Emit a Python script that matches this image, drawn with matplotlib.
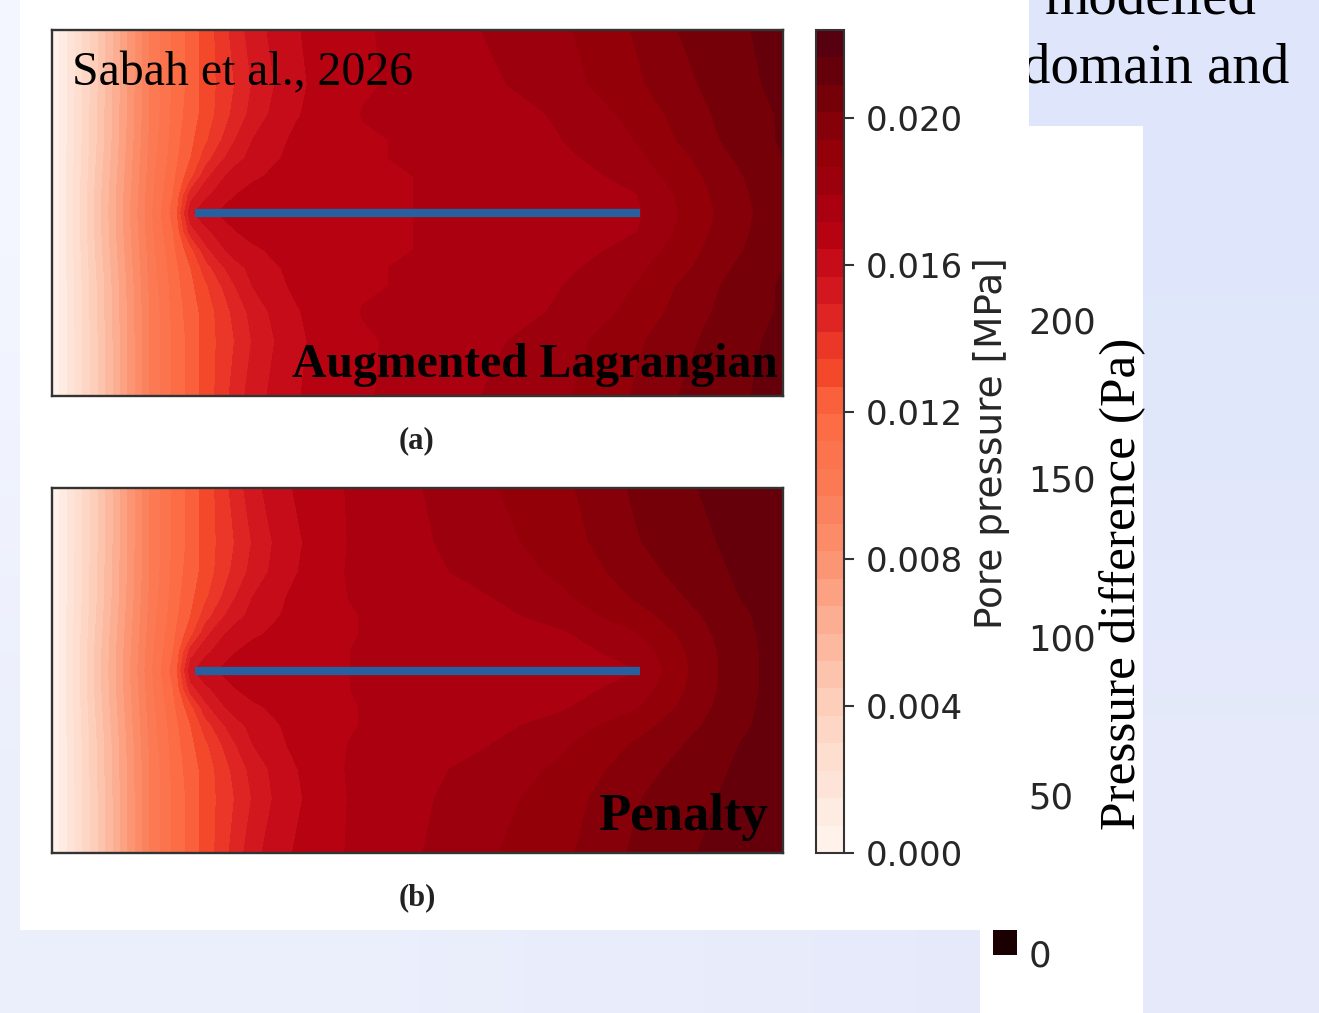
import numpy as np
import matplotlib
matplotlib.use('Agg')
import matplotlib.pyplot as plt
from matplotlib.colors import LinearSegmentedColormap
from matplotlib.patches import Rectangle

# positions along the domain and distance above/below the fracture
x_grid = [0, .13, .27, .34, .38, .42, .46, .50, .55, .62, .72, .85, 1.04, 1.2, 1.39, 1.6, 1.72, 1.85, 2.0]
d_grid = [0, .05, .1, .15, .2, .27, .35, .5]

# pore pressure, one row per distance, fracture line first
p_lagrangian = [
    [0, .0050, .0103, .0125, .0155, .0162, .0165, .0167, .0168, .0169, .0170, .0171, .0172, .0172, .0173, .0178, .0187, .0197, .0207],
    [0, .0050, .0102, .0122, .0146, .0155, .0160, .0164, .0167, .0169, .0170, .0171, .0172, .0173, .0174, .0179, .0188, .0198, .0207],
    [0, .0049, .0101, .0120, .0132, .0147, .0155, .0160, .0163, .0166, .0169, .0171, .0172, .0173, .0175, .0182, .0190, .0199, .0208],
    [0, .0048, .0100, .0118, .0127, .0138, .0147, .0154, .0159, .0164, .0168, .0171, .0173, .0174, .0177, .0185, .0192, .0201, .0209],
    [0, .0047, .0099, .0117, .0125, .0133, .0141, .0149, .0157, .0163, .0168, .0171, .0173, .0175, .0179, .0187, .0195, .0203, .0210],
    [0, .0047, .0098, .0116, .0123, .0130, .0137, .0144, .0152, .0160, .0167, .0172, .0173, .0176, .0180, .0189, .0197, .0204, .0210],
    [0, .0046, .0098, .0115, .0122, .0130, .0136, .0142, .0150, .0158, .0166, .0171, .0174, .0178, .0183, .0193, .0199, .0206, .0211],
    [0, .0046, .0098, .0115, .0122, .0130, .0137, .0145, .0153, .0160, .0167, .0171, .0175, .0180, .0185, .0195, .0202, .0207, .0212],
]
# same for panel (b)
p_penalty = [
    [0, .0050, .0103, .0125, .0155, .0162, .0165, .0167, .0168, .0169, .0171, .0172, .0172, .0173, .0174, .0179, .0192, .0204, .0213],
    [0, .0050, .0102, .0122, .0146, .0155, .0160, .0164, .0167, .0169, .0171, .0172, .0173, .0174, .0176, .0182, .0193, .0204, .0213],
    [0, .0049, .0101, .0120, .0132, .0147, .0155, .0160, .0163, .0166, .0169, .0172, .0174, .0175, .0178, .0186, .0195, .0205, .0213],
    [0, .0048, .0100, .0118, .0127, .0138, .0147, .0154, .0159, .0164, .0169, .0172, .0175, .0177, .0182, .0191, .0198, .0206, .0213],
    [0, .0047, .0099, .0117, .0125, .0133, .0141, .0149, .0157, .0163, .0169, .0173, .0176, .0179, .0185, .0195, .0201, .0208, .0213],
    [0, .0047, .0098, .0116, .0123, .0130, .0137, .0144, .0152, .0160, .0168, .0174, .0178, .0182, .0188, .0198, .0204, .0209, .0214],
    [0, .0046, .0098, .0115, .0122, .0130, .0136, .0142, .0150, .0159, .0167, .0174, .0179, .0184, .0190, .0201, .0206, .0210, .0214],
    [0, .0046, .0098, .0115, .0122, .0130, .0137, .0145, .0154, .0162, .0168, .0174, .0180, .0186, .0192, .0203, .0208, .0211, .0215],
]

crack_x = [0.39, 1.61]
crack_y = [0.5, 0.5]

cbar_ticks = [0, .004, .008, .012, .016, .020]
diff_ticks = [0, 50, 100, 150, 200]
n_levels = 30
p_max = 0.0224

# colours sampled along the colour bar, with the pressure they sit at
red_values = [0, .002, .004, .006, .008, .010, .012, .013, .014, .015, .016, .017, .018, .019, .020, .021, .022, .0224]
red_colors = ['#fff5ef', '#fee3d6', '#fdd0bc', '#fcb498', '#fc9270', '#fb7a54', '#fc6a42',
              '#f54a2c', '#e83226', '#d81c20', '#c80c1a', '#b40010', '#a20010', '#940008',
              '#820008', '#6c0008', '#580010', '#4a000c']

W, H = 1319, 1013


def px_axes(fig, x0, y0, x1, y1):
    # axes from pixel box, y counted from the top
    return fig.add_axes([x0 / W, 1 - y1 / H, (x1 - x0) / W, (y1 - y0) / H])


def draw_field(ax, table, cmap, levels):
    d = np.array(d_grid)
    y = np.concatenate([0.5 - d[::-1], 0.5 + d[1:]])
    half = np.array(table)
    z = np.vstack([half[::-1], half[1:]])
    cs = ax.contourf(x_grid, y, z, levels=levels, cmap=cmap, vmin=0, vmax=p_max, zorder=1)
    ax.plot(crack_x, crack_y, color='#27609f', lw=6, solid_capstyle='butt', zorder=3)
    ax.set_xlim(0, 2)
    ax.set_ylim(0, 1)
    ax.set_xticks([])
    ax.set_yticks([])
    for s in ax.spines.values():
        s.set_linewidth(1.7)
        s.set_color('#333333')
    return cs


def main():
    fig = plt.figure(figsize=(W / 100, H / 100), dpi=100)

    # slide background
    bg = fig.add_axes([0, 0, 1, 1], zorder=0)
    bg.imshow([[[.955, .965, 1.0], [.875, .905, .985]],
               [[.925, .94, .99], [.90, .915, .98]]],
              extent=[0, W, H, 0], aspect='auto', interpolation='bilinear')
    bg.set_xlim(0, W)
    bg.set_ylim(H, 0)
    bg.axis('off')
    serif = 'Liberation Serif'
    bg.text(1022, 82, 'domain and', family=serif, fontsize=41, color='black', zorder=1)
    bg.text(1045, 13, 'modelled', family=serif, fontsize=41, color='black', zorder=1)
    bg.add_patch(Rectangle((20, 0), 1009, 930, color='white', lw=0, zorder=2))
    bg.add_patch(Rectangle((980, 126), 163, H - 126, color='white', lw=0, zorder=2))
    bg.add_patch(Rectangle((993, 930), 24, 25, color='#1a0000', lw=0, zorder=3))

    cmap = LinearSegmentedColormap.from_list('pore', list(zip(np.array(red_values) / p_max, red_colors)))
    levels = np.linspace(0, p_max, n_levels + 1)

    ax_a = px_axes(fig, 52, 30, 783, 396)
    cs = draw_field(ax_a, p_lagrangian, cmap, levels)
    ax_b = px_axes(fig, 52, 488, 783, 853)
    draw_field(ax_b, p_penalty, cmap, levels)

    cax = px_axes(fig, 816, 30, 844, 853)
    cb = fig.colorbar(cs, cax=cax)
    cb.set_ticks(cbar_ticks)
    cb.set_ticklabels(['%.3f' % t for t in cbar_ticks])
    cb.ax.tick_params(labelsize=24.4, length=7, width=1.5, color='#333333', labelcolor='#262626', pad=9)
    cb.outline.set_linewidth(1.5)
    cb.outline.set_edgecolor('#333333')

    # leftover tick labels of the second colour scale
    dax = px_axes(fig, 1017, 320, 1020, 953)
    dax.set_ylim(0, 200)
    dax.set_xticks([])
    dax.set_yticks(diff_ticks)
    dax.yaxis.tick_right()
    dax.tick_params(labelsize=25.5, length=0, labelcolor='#262626', pad=6)
    dax.patch.set_visible(False)
    for s in dax.spines.values():
        s.set_visible(False)

    over = fig.add_axes([0, 0, 1, 1], zorder=5)
    over.set_xlim(0, W)
    over.set_ylim(H, 0)
    over.axis('off')
    over.text(72, 85, 'Sabah et al., 2026', family=serif, fontsize=34.4, color='black')
    over.text(292, 377, 'Augmented Lagrangian', family=serif, fontsize=34.3, fontweight='bold', color='black')
    over.text(598, 830, 'Penalty', family=serif, fontsize=38, fontweight='bold', color='black')
    over.text(417, 441, '(a)', family=serif, fontsize=22, fontweight='bold', color='#222222', ha='center', va='center')
    over.text(417, 898, '(b)', family=serif, fontsize=22, fontweight='bold', color='#222222', ha='center', va='center')
    over.text(992, 443, 'Pore pressure [MPa]', fontsize=26.9, color='#262626', rotation=90, ha='center', va='center')
    over.text(1123, 584, 'Pressure difference (Pa)', family=serif, fontsize=37, color='black', rotation=90, ha='center', va='center')

    fig.savefig('out.png', dpi=100)


if __name__ == "__main__":
    main()
